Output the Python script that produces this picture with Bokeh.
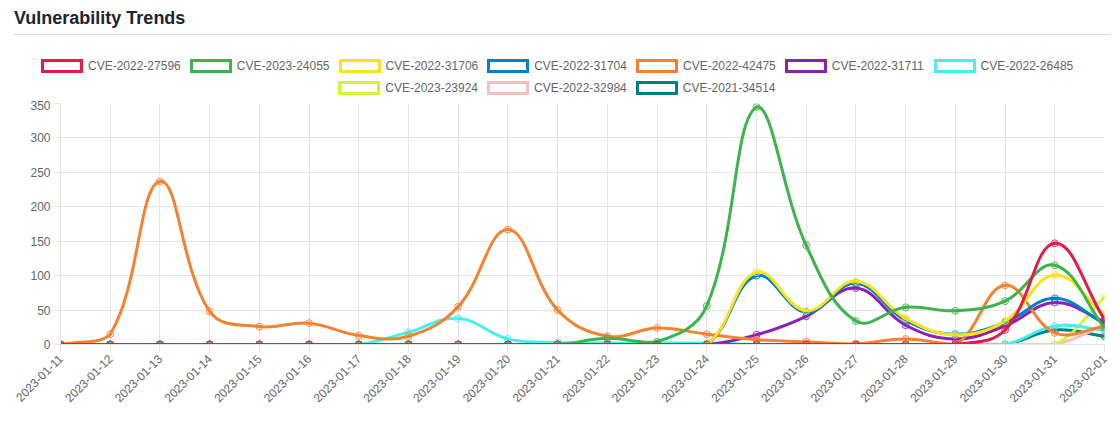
import math
from bokeh.plotting import figure
from bokeh.models import Div, FixedTicker, Range1d, ColumnDataSource
from bokeh.layouts import column
from bokeh.embed import file_html
from bokeh.resources import INLINE

# ---------------- data ----------------
dates = ["2023-01-11", "2023-01-12", "2023-01-13", "2023-01-14", "2023-01-15",
         "2023-01-16", "2023-01-17", "2023-01-18", "2023-01-19", "2023-01-20",
         "2023-01-21", "2023-01-22", "2023-01-23", "2023-01-24", "2023-01-25",
         "2023-01-26", "2023-01-27", "2023-01-28", "2023-01-29", "2023-01-30",
         "2023-01-31", "2023-02-01"]

cve_2022_27596 = [0, 0, 0, 0, 0, 0, 0, 0, 0, 0, 0, 0, 0, 0, 0, 0, 0, 0, 0, 21, 147, 36]
cve_2023_24055 = [0, 0, 0, 0, 0, 0, 0, 0, 0, 0, 0, 9, 4, 56, 345, 144, 34, 54, 49, 63, 115, 24]
cve_2022_31706 = [0, 0, 0, 0, 0, 0, 0, 0, 0, 0, 0, 0, 0, 0, 105, 49, 92, 38, 14, 34, 101, 43]
cve_2022_31704 = [0, 0, 0, 0, 0, 0, 0, 0, 0, 0, 0, 0, 0, 0, 100, 47, 89, 35, 15, 32, 67, 30]
cve_2022_42475 = [0, 15, 237, 48, 26, 31, 13, 12, 55, 167, 50, 12, 24, 15, 7, 4, 1, 8, 0, 86, 17, 26]
cve_2022_31711 = [0, 0, 0, 0, 0, 0, 0, 0, 0, 0, 0, 0, 0, 0, 14, 41, 82, 28, 8, 27, 61, 33]
cve_2022_26485 = [0, 0, 0, 0, 0, 0, 0, 18, 38, 8, 3, 2, 2, 2, 0, 0, 0, 0, 0, 0, 27, 21]
cve_2023_23924 = [0, 0, 0, 0, 0, 0, 0, 0, 0, 0, 0, 0, 0, 0, 0, 0, 0, 0, 0, 0, 0, 69]
cve_2022_32984 = [0, 0, 0, 0, 0, 0, 0, 0, 0, 0, 0, 0, 0, 0, 0, 0, 0, 0, 0, 0, 0, 28]
cve_2021_34514 = [0, 0, 0, 0, 0, 0, 0, 0, 0, 0, 0, 0, 0, 0, 0, 0, 0, 0, 0, 0, 21, 12]

series_names = ["CVE-2022-27596", "CVE-2023-24055", "CVE-2022-31706", "CVE-2022-31704",
                "CVE-2022-42475", "CVE-2022-31711", "CVE-2022-26485", "CVE-2023-23924",
                "CVE-2022-32984", "CVE-2021-34514"]
series_values = [cve_2022_27596, cve_2023_24055, cve_2022_31706, cve_2022_31704,
                 cve_2022_42475, cve_2022_31711, cve_2022_26485, cve_2023_23924,
                 cve_2022_32984, cve_2021_34514]
colors = ["#e6194b", "#3cb44b", "#ffe119", "#0082c8", "#f58231",
          "#911eb4", "#46f0f0", "#d2f53c", "#fabebe", "#008080"]

y_ticks = [0, 50, 100, 150, 200, 250, 300, 350]

# ---------------- layout constants ----------------
PAGE_W = 1110
HEADER_H = 100
FIG_H = 328
MB_L, MB_R, MB_T, MB_B = 60, 6, 3, 84
X_MAX = len(dates) - 1
Y_MAX = 350
FRAME_W = PAGE_W - MB_L - MB_R
FRAME_H = FIG_H - MB_T - MB_B
SX = FRAME_W / X_MAX
SY = FRAME_H / Y_MAX
FONT = "Liberation Sans"
GRID = "#e6e6e6"
TXT = "#666666"


def spline_source(xs, ys, t=0.4):
    """Chart.js-style spline (tension 0.4) control points, capped to the area."""
    n = len(xs)
    cp_prev, cp_next = [], []
    for i in range(n):
        a, b = max(i - 1, 0), min(i + 1, n - 1)
        d01 = math.hypot((xs[i] - xs[a]) * SX, (ys[i] - ys[a]) * SY)
        d12 = math.hypot((xs[b] - xs[i]) * SX, (ys[b] - ys[i]) * SY)
        tot = d01 + d12
        s01 = d01 / tot if tot else 0.0
        s12 = d12 / tot if tot else 0.0
        fa, fb = t * s01, t * s12
        dx, dy = xs[b] - xs[a], ys[b] - ys[a]

        def cap(px, py):
            return (min(max(px, 0), X_MAX), min(max(py, 0), Y_MAX))
        cp_prev.append(cap(xs[i] - fa * dx, ys[i] - fa * dy))
        cp_next.append(cap(xs[i] + fb * dx, ys[i] + fb * dy))
    d = dict(x0=[], y0=[], x1=[], y1=[], cx0=[], cy0=[], cx1=[], cy1=[])
    for i in range(n - 1):
        d["x0"].append(xs[i]); d["y0"].append(ys[i])
        d["x1"].append(xs[i + 1]); d["y1"].append(ys[i + 1])
        d["cx0"].append(cp_next[i][0]); d["cy0"].append(cp_next[i][1])
        d["cx1"].append(cp_prev[i + 1][0]); d["cy1"].append(cp_prev[i + 1][1])
    return ColumnDataSource(d)


# ---------------- main chart ----------------
p = figure(width=PAGE_W, height=FIG_H, x_range=Range1d(0, X_MAX), y_range=Range1d(0, Y_MAX),
           output_backend="svg", toolbar_location=None,
           min_border_left=MB_L, min_border_right=MB_R,
           min_border_top=MB_T, min_border_bottom=MB_B, margin=0)
p.background_fill_color = "white"
p.border_fill_color = "white"
p.outline_line_color = None

xs = list(range(len(dates)))

# draw last dataset first so the first one ends on top (Chart.js order)
for idx in reversed(range(len(series_names))):
    c = colors[idx]
    ys = series_values[idx]
    p.bezier(x0="x0", y0="y0", x1="x1", y1="y1", cx0="cx0", cy0="cy0",
             cx1="cx1", cy1="cy1", source=spline_source(xs, ys),
             line_color=c, line_width=3, line_cap="round")
    p.scatter(xs, ys, marker="circle", size=7, line_color=c, line_width=1,
              line_alpha=0.8, fill_color=c, fill_alpha=0.2)

p.xaxis.ticker = FixedTicker(ticks=xs)
p.xaxis.major_label_overrides = {i: d for i, d in enumerate(dates)}
p.xaxis.major_label_orientation = math.pi / 4
p.xaxis.major_tick_out = 8
p.xaxis.major_label_standoff = 4
p.yaxis.ticker = FixedTicker(ticks=y_ticks)
p.yaxis.major_tick_out = 6
p.yaxis.major_label_standoff = 4
for ax in (p.xaxis, p.yaxis):
    ax.major_tick_in = 0
    ax.minor_tick_line_color = None
    ax.major_tick_line_color = GRID
    ax.axis_line_color = GRID
    ax.major_label_text_font = FONT
    ax.major_label_text_font_size = "12px"
    ax.major_label_text_color = TXT
p.xgrid.ticker = FixedTicker(ticks=xs)
p.ygrid.ticker = FixedTicker(ticks=y_ticks)
p.xgrid.grid_line_color = GRID
p.ygrid.grid_line_color = GRID

# ---------------- header: title, rule and legend (two centred rows) ----------------
PITCH = 148.75
rows = [(series_names[:7], colors[:7], 41.0, 59),
        (series_names[7:], colors[7:], 338.3, 81)]
legend_html = ""
for names, cols, x0, top in rows:
    for k, (nm, c) in enumerate(zip(names, cols)):
        left = x0 + k * PITCH
        legend_html += (
            f'<div style="position:absolute;left:{left:.1f}px;top:{top}px;width:42px;'
            f'height:14px;box-sizing:border-box;border:3px solid {c};background:#fff;"></div>'
            f'<div style="position:absolute;left:{left + 47:.1f}px;top:{top}px;'
            f"font:12px/14px '{FONT}',Arial,sans-serif;color:{TXT};white-space:nowrap;\">"
            f'{nm}</div>')

header = Div(width=PAGE_W, height=HEADER_H, margin=0, text=(
    f'<div style="position:relative;width:{PAGE_W}px;height:{HEADER_H}px;">'
    '<div style="position:absolute;left:14px;top:9.4px;font:bold 18px/18px '
    f"'{FONT}',Arial,sans-serif;color:#212529;white-space:nowrap;\">"
    'Vulnerability Trends</div>'
    '<div style="position:absolute;left:14px;top:34px;width:1096px;height:0;'
    'border-top:1px solid #dcdcdc;"></div>' + legend_html + '</div>'))

layout = column(header, p, spacing=0)
open("out.html", "w").write(file_html(layout, INLINE))
